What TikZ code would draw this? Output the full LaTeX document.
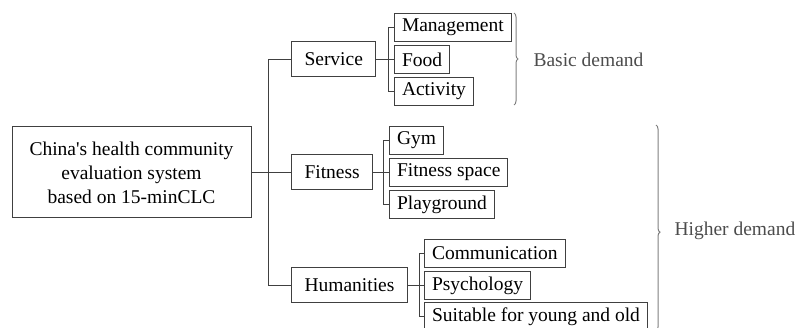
\documentclass[tikz,border=0pt]{standalone}
\usepackage{fontspec}
\setmainfont{Liberation Serif}
\usetikzlibrary{decorations.pathreplacing,positioning}

\tikzset{
  box/.style={draw=black!75, line width=1pt, fill=white, inner ysep=0pt, text=black},
  rootbox/.style={box, align=center, minimum width=239pt, minimum height=91pt},
  midbox/.style={box, inner xsep=13pt, minimum height=35pt, anchor=west},
  leafbox/.style={box, inner xsep=7.5pt, minimum height=28pt, anchor=west},
  link/.style={draw=black!75, line width=1pt},
  demand/.style={draw=black!50, line width=1pt, decorate},
  demandtext/.style={text=black!70, anchor=west}
}

\begin{document}
\begin{tikzpicture}[x=1pt, y=-1pt, font=\fontsize{19.5}{24}\selectfont]
\useasboundingbox (0,0) rectangle (798,328);

% root and the three groups
\node[rootbox] (root) at (131.5,172.5) {China\textquotesingle s health community\\evaluation system\\based on 15-minCLC};
\node[midbox] (service) at (291,59.5) {Service};
\node[midbox] (fitness) at (291,172.5) {Fitness};
\node[midbox] (humanities) at (291,285.5) {Humanities};

% leaves
\node[leafbox] (management) at (394,27.5) {Management};
\node[leafbox] (food) at (394,59.5) {Food};
\node[leafbox] (activity) at (394,91.5) {Activity};
\node[leafbox] (gym) at (389,140.5) {Gym};
\node[leafbox] (fspace) at (389,172.5) {Fitness space};
\node[leafbox] (playground) at (389,204.5) {Playground};
\node[leafbox] (communication) at (424,253.5) {Communication};
\node[leafbox] (psychology) at (424,285.5) {Psychology};
\node[leafbox] (suitable) at (424,316.5) {Suitable for young and old};

% connectors
\draw[link] (root.east) -- (fitness.west);
\draw[link] (service.west) -- ++(-23,0) |- (humanities.west);
\draw[link] (service.east) -- (food.west);
\draw[link] (management.west) -- ++(-6,0) |- (activity.west);
\draw[link] (fitness.east) -- (fspace.west);
\draw[link] (gym.west) -- ++(-6,0) |- (playground.west);
\draw[link] (humanities.east) -- (psychology.west);
\draw[link] (communication.west) -- ++(-5,0) |- (suitable.west);

% demand braces
\draw[demand, decoration={brace, amplitude=4pt}] (514,13) -- (514,105);
\node[demandtext] (basic) at (530,60) {Basic demand};
\draw[demand, decoration={brace, amplitude=4pt, aspect=0.52}] (656,125) -- (656,331);
\node[demandtext] (higher) at (671,231) {Higher demand};
\end{tikzpicture}
\end{document}
